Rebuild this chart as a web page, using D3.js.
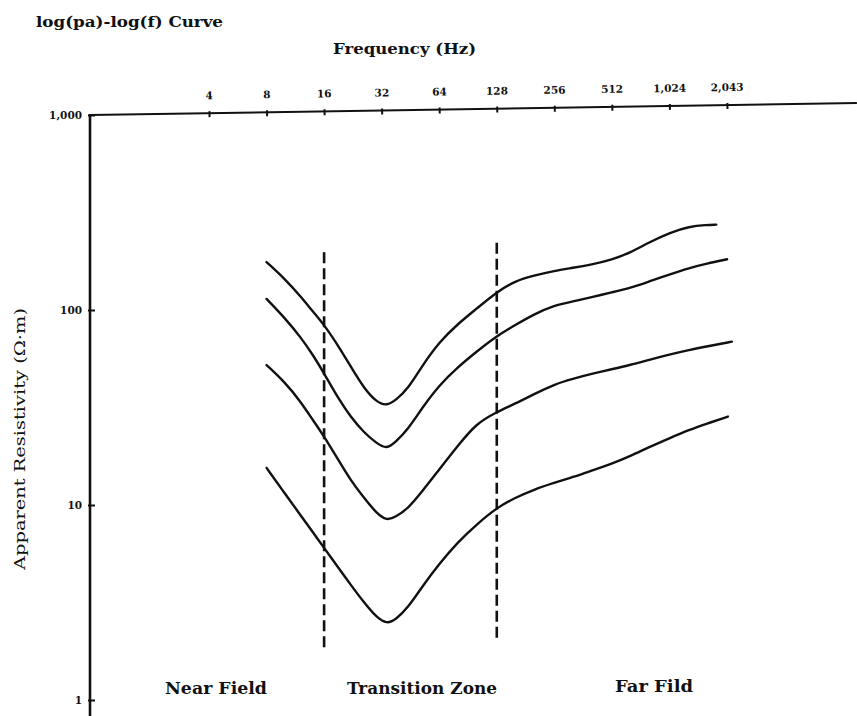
<!DOCTYPE html>
<html>
<head>
<meta charset="utf-8">
<script src="https://cdn.jsdelivr.net/npm/d3@7/dist/d3.min.js"></script>
<style>
  html, body { margin: 0; padding: 0; background: #fff; }
  svg { display: block; }
  text { font-family: "DejaVu Serif", "Liberation Serif", serif; fill: #111; }
</style>
</head>
<body>
<svg id="chart" width="857" height="716"></svg>
<script>
// Frequency axis (top), log base 2
const freqTicks  = [4, 8, 16, 32, 64, 128, 256, 512, 1024, 2048];
const freqLabels = ["4", "8", "16", "32", "64", "128", "256", "512", "1,024", "2,043"];

// Resistivity axis (left), log base 10
const rhoTicks  = [1, 10, 100, 1000];
const rhoLabels = ["1", "10", "100", "1,000"];

// Sounding curves: frequency (Hz) and apparent resistivity (Ω·m)
const freqA = [8, 10, 12, 14, 16, 19, 22, 26, 30, 34, 38, 44, 52, 64, 80, 100, 128, 160, 200, 256, 320, 400, 512, 640, 800, 1024, 1300, 1600, 1800];
const rhoA  = [176, 144, 118, 98, 84, 65.4, 51.5, 39.4, 33.8, 32.2, 34.5, 39.5, 51.6, 68.5, 84.8, 101.2, 123.7, 141, 150, 159, 164.5, 171, 181, 197, 222, 249, 268, 273, 274];

const freqB = [8, 10, 12, 14, 16, 19, 22, 26, 30, 34, 38, 44, 52, 64, 80, 100, 128, 160, 200, 256, 320, 400, 512, 640, 800, 1024, 1300, 1600, 2050];
const rhoB  = [114, 90.7, 73, 58.8, 47.3, 35.1, 28.3, 23.4, 20.8, 19.3, 21.1, 24.5, 31.4, 41.2, 50.9, 61, 73.6, 83.8, 95, 105.8, 110.5, 116.2, 123.2, 129.8, 140, 152, 164.4, 172.8, 182];

const freqC = [8, 10, 12, 14, 16, 19, 22, 26, 30, 34, 38, 44, 52, 64, 80, 100, 128, 160, 200, 256, 320, 400, 512, 640, 800, 1024, 1300, 1600, 2170];
const rhoC  = [52.2, 42.5, 34.1, 27.2, 22.5, 17, 13.4, 10.8, 9.1, 8.3, 8.7, 9.6, 11.7, 15.2, 20.1, 26.2, 30, 33.1, 37, 41.6, 44.4, 47, 49.7, 52.3, 55.5, 59.1, 62.4, 65, 68.8];

const freqD = [8, 10, 12, 14, 16, 19, 22, 26, 30, 34, 38, 44, 52, 64, 80, 100, 128, 160, 200, 256, 320, 400, 512, 640, 800, 1024, 1300, 1600, 2070];
const rhoD  = [15.5, 11.4, 8.92, 7.23, 6.03, 4.76, 3.91, 3.14, 2.66, 2.45, 2.59, 2.98, 3.8, 4.99, 6.45, 7.91, 9.69, 10.9, 12, 13, 13.9, 15, 16.3, 17.8, 19.8, 22, 24.3, 26.1, 28.4];

// Zone boundaries (dashed): frequency and vertical extent in Ω·m
const boundaryFreq   = [16, 128];
const boundaryTop    = [198, 221];
const boundaryBottom = [1.85, 1.98];

// Zone captions
const zoneNames = ["Near Field", "Transition Zone", "Far Fild"];

const svg = d3.select("#chart");
const W = 857, H = 716;
const axisX = 90, axisY = 115;

svg.append("rect").attr("width", W).attr("height", H).attr("fill", "#fff");

const x = d3.scaleLog().base(2).domain([4, 2048]).range([209, 727]);
const y = d3.scaleLog().base(10).domain([1, 1000]).range([700, 115]);

// Title
svg.append("text")
  .attr("x", 36).attr("y", 27)
  .attr("font-size", 15).attr("font-weight", "bold")
  .attr("textLength", 187).attr("lengthAdjust", "spacingAndGlyphs")
  .text("log(pa)-log(f)  Curve");

// Top frequency axis (slightly tilted, as printed)
const topG = svg.append("g")
  .attr("transform", `rotate(-0.9, ${axisX}, ${axisY}) translate(0, ${axisY})`);

topG.append("line")
  .attr("x1", axisX).attr("x2", W)
  .attr("y1", 0).attr("y2", 0)
  .attr("stroke", "#111").attr("stroke-width", 2);

const xAxis = d3.axisTop(x)
  .tickValues(freqTicks)
  .tickFormat((d, i) => freqLabels[i])
  .tickSize(0)
  .tickPadding(14);

const xa = topG.append("g").call(xAxis);
xa.select(".domain").remove();
xa.selectAll(".tick line")
  .attr("y1", -2).attr("y2", 4)
  .attr("stroke", "#111").attr("stroke-width", 2);
xa.selectAll(".tick text")
  .attr("font-size", 10.5).attr("font-weight", "bold")
  .attr("font-family", "DejaVu Serif, serif").attr("fill", "#111");

// Axis title
svg.append("text")
  .attr("x", 333).attr("y", 54)
  .attr("font-size", 15).attr("font-weight", 600)
  .attr("textLength", 143).attr("lengthAdjust", "spacingAndGlyphs")
  .text("Frequency (Hz)");

// Left resistivity axis
svg.append("line")
  .attr("x1", axisX).attr("x2", axisX)
  .attr("y1", axisY - 1).attr("y2", H)
  .attr("stroke", "#111").attr("stroke-width", 2.6);

const yAxis = d3.axisLeft(y)
  .tickValues(rhoTicks)
  .tickFormat((d, i) => rhoLabels[i])
  .tickSize(0)
  .tickPadding(8);

const ya = svg.append("g").attr("transform", `translate(${axisX},0)`).call(yAxis);
ya.select(".domain").remove();
ya.selectAll(".tick line")
  .attr("x1", -2).attr("x2", 5)
  .attr("stroke", "#111").attr("stroke-width", 2);
ya.selectAll(".tick text")
  .attr("font-size", 10.5).attr("font-weight", "bold")
  .attr("font-family", "DejaVu Serif, serif").attr("fill", "#111");

svg.append("text")
  .attr("transform", "translate(25, 439) rotate(-90)")
  .attr("text-anchor", "middle")
  .attr("font-size", 15)
  .attr("textLength", 262).attr("lengthAdjust", "spacingAndGlyphs")
  .text("Apparent Resistivity (Ω·m)");

// Zone boundaries
const boundaries = boundaryFreq.map((f, i) => ({ f, top: boundaryTop[i], bottom: boundaryBottom[i] }));
svg.selectAll(".boundary")
  .data(boundaries)
  .join("line")
  .attr("class", "boundary")
  .attr("x1", d => x(d.f)).attr("x2", d => x(d.f))
  .attr("y1", d => y(d.top)).attr("y2", d => y(d.bottom))
  .attr("stroke", "#111").attr("stroke-width", 2.6)
  .attr("stroke-dasharray", "11,5");

// Resistivity curves
const series = [
  freqA.map((f, i) => ({ f, r: rhoA[i] })),
  freqB.map((f, i) => ({ f, r: rhoB[i] })),
  freqC.map((f, i) => ({ f, r: rhoC[i] })),
  freqD.map((f, i) => ({ f, r: rhoD[i] }))
];

const line = d3.line()
  .x(d => x(d.f))
  .y(d => y(d.r))
  .curve(d3.curveBasis);

svg.selectAll(".curve")
  .data(series)
  .join("path")
  .attr("class", "curve")
  .attr("d", line)
  .attr("fill", "none")
  .attr("stroke", "#111")
  .attr("stroke-width", 2.4)
  .attr("stroke-linecap", "round");

// Zone captions
const zoneLayout = [
  { cx: 216, w: 102 },
  { cx: 422, w: 150 },
  { cx: 654, w: 78 }
];
svg.selectAll(".zone")
  .data(zoneNames)
  .join("text")
  .attr("class", "zone")
  .attr("x", (d, i) => zoneLayout[i].cx - zoneLayout[i].w / 2)
  .attr("y", (d, i) => i === 2 ? 692 : 694)
  .attr("font-size", 16).attr("font-weight", "bold")
  .attr("textLength", (d, i) => zoneLayout[i].w)
  .attr("lengthAdjust", "spacingAndGlyphs")
  .text(d => d);
</script>
</body>
</html>
